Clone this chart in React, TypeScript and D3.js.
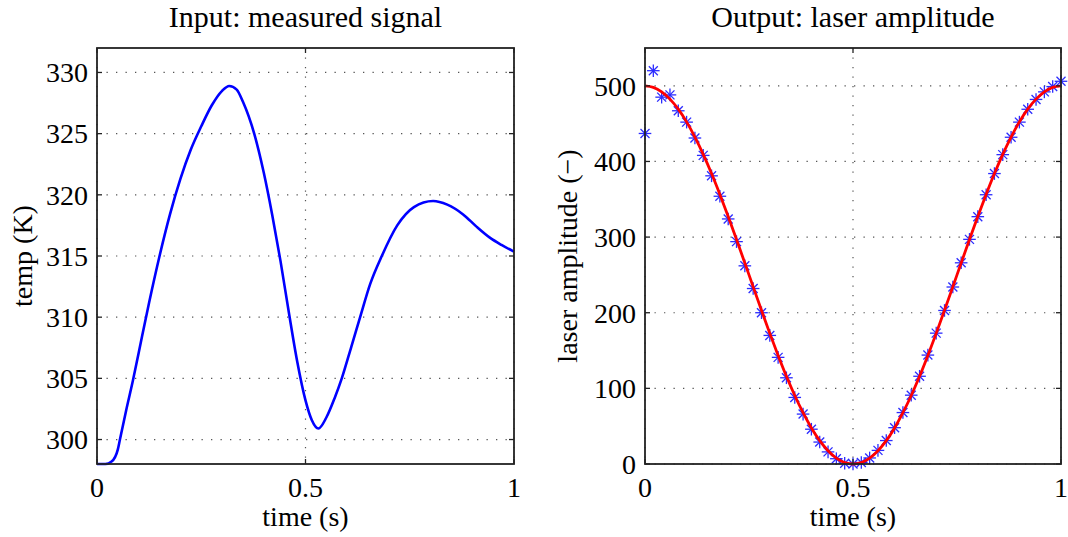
import React from 'react';
import * as d3 from 'd3';

const W = 1068;
const H = 537;
const FONT = '"Liberation Serif", "Times New Roman", serif';

// left panel: measured temperature (K) vs time (s)
const inputTime = [
  0, 0.02, 0.035, 0.05, 0.055, 0.07, 0.086, 0.1, 0.125, 0.15, 0.175, 0.2, 0.225, 0.25,
  0.275, 0.3, 0.317, 0.335, 0.35, 0.377, 0.4, 0.42, 0.44, 0.46, 0.48, 0.5,
  0.515, 0.531, 0.55, 0.57, 0.587, 0.61, 0.631, 0.655, 0.683, 0.72, 0.76, 0.806, 0.84,
  0.878, 0.91, 0.942, 0.97, 1.0,
];
const inputTemp = [
  298, 298, 298.2, 299.2, 300, 302.4, 304.8, 307.1, 311.2, 315, 318.4, 321.3, 323.7, 325.6,
  327.3, 328.5, 328.9, 328.6, 327.6, 325, 321.8, 318.4, 314.6, 310.4, 306.4, 303.2,
  301.6, 300.9, 301.8, 303.4, 305, 307.6, 310, 312.7, 315, 317.5, 319, 319.5, 319.2,
  318.4, 317.4, 316.5, 315.9, 315.35,
];

// right panel: laser amplitude, samples every 0.02 s
const laserRef = [
  500, 498, 492.1, 482.4, 469.1, 452.3, 432.2, 409.4, 384, 356.4, 327.3, 296.8, 265.7,
  234.3, 203.2, 172.7, 143.6, 116, 90.6, 67.8, 47.7, 30.9, 17.6, 7.9, 2, 0,
  2, 7.9, 17.6, 30.9, 47.7, 67.8, 90.6, 116, 143.6, 172.7, 203.2, 234.3, 265.7,
  296.8, 327.3, 356.4, 384, 409.4, 432.2, 452.3, 469.1, 482.4, 492.1, 498, 500,
];
const laserOut = [
  437, 520, 485, 488, 467, 452, 431, 408, 381, 354, 324, 294, 262, 232, 200, 170, 141,
  114, 88, 66, 46, 29, 16, 7, 1, 0, 2, 8, 18, 31, 48, 68, 91, 116, 144, 173, 203,
  234, 266, 297, 327, 356, 384, 409, 432, 452, 469, 482, 492, 499, 506,
];
const laserTime = laserRef.map((_, i) => i / 50);

const xTicks = [0, 0.5, 1];
const xTickLabels = ['0', '0.5', '1'];
const tempTicks = [300, 305, 310, 315, 320, 325, 330];
const ampTicks = [0, 100, 200, 300, 400, 500];

const TOP = 48;
const BOTTOM = 464;

function Frame({ x, y, xt, yt, title, yLabel, yLabelX, children }: any) {
  const [x0, x1] = x.range();
  const cx = (x0 + x1) / 2;
  const cy = (TOP + BOTTOM) / 2;
  const tl = 5;
  const axisColor = '#222';
  return (
    <g>
      {/* grid */}
      {xt.map((t: number) => (
        <line key={'gx' + t} x1={x(t)} x2={x(t)} y1={TOP} y2={BOTTOM}
          stroke="#555" strokeWidth={1.2} strokeDasharray="1.3,8.2" />
      ))}
      {yt.map((t: number) => (
        <line key={'gy' + t} x1={x0} x2={x1} y1={y(t)} y2={y(t)}
          stroke="#555" strokeWidth={1.2} strokeDasharray="1.3,8.2" />
      ))}
      {children}
      {/* box */}
      <rect x={x0} y={TOP} width={x1 - x0} height={BOTTOM - TOP} fill="none"
        stroke={axisColor} strokeWidth={1.8} />
      {/* ticks */}
      {xt.map((t: number) => (
        <g key={'tx' + t}>
          <line x1={x(t)} x2={x(t)} y1={BOTTOM} y2={BOTTOM - tl} stroke={axisColor} strokeWidth={1.3} />
          <line x1={x(t)} x2={x(t)} y1={TOP} y2={TOP + tl} stroke={axisColor} strokeWidth={1.3} />
        </g>
      ))}
      {yt.map((t: number) => (
        <g key={'ty' + t}>
          <line x1={x0} x2={x0 + tl} y1={y(t)} y2={y(t)} stroke={axisColor} strokeWidth={1.3} />
          <line x1={x1} x2={x1 - tl} y1={y(t)} y2={y(t)} stroke={axisColor} strokeWidth={1.3} />
        </g>
      ))}
      {/* tick labels */}
      {xt.map((t: number, i: number) => (
        <text key={'lx' + t} x={x(t)} y={497} textAnchor="middle" fontSize={28}>
          {xTickLabels[i]}
        </text>
      ))}
      {yt.map((t: number) => (
        <text key={'ly' + t} x={x0 - 9} y={y(t)} dy="0.35em" textAnchor="end" fontSize={28}>
          {t}
        </text>
      ))}
      <text x={cx} y={526} textAnchor="middle" fontSize={28}>time (s)</text>
      <text x={cx} y={27} textAnchor="middle" fontSize={30}>{title}</text>
      <text transform={`translate(${yLabelX},${cy}) rotate(-90)`} textAnchor="middle" fontSize={28}>
        {yLabel}
      </text>
    </g>
  );
}

function Asterisk({ cx, cy }: { cx: number; cy: number }) {
  const r = 6.3;
  const d = 4.5;
  return (
    <g stroke="#1515ff" strokeWidth={1.3} opacity={0.9}>
      <line x1={cx - r} x2={cx + r} y1={cy} y2={cy} />
      <line x1={cx} x2={cx} y1={cy - r} y2={cy + r} />
      <line x1={cx - d} x2={cx + d} y1={cy - d} y2={cy + d} />
      <line x1={cx - d} x2={cx + d} y1={cy + d} y2={cy - d} />
    </g>
  );
}

export default function App() {
  const xL = d3.scaleLinear().domain([0, 1]).range([97, 514]);
  const yL = d3.scaleLinear().domain([298, 332]).range([BOTTOM, TOP]);
  const xR = d3.scaleLinear().domain([0, 1]).range([645, 1061]);
  const yR = d3.scaleLinear().domain([0, 550]).range([BOTTOM, TOP]);

  const tempLine = d3.line<number>()
    .x((_, i) => xL(inputTime[i]))
    .y(d => yL(d))
    .curve(d3.curveMonotoneX);
  const refLine = d3.line<number>()
    .x((_, i) => xR(laserTime[i]))
    .y(d => yR(d))
    .curve(d3.curveMonotoneX);

  return (
    <svg width={W} height={H} style={{ position: 'absolute', left: 0, top: 0, background: '#fff' }}
      fontFamily={FONT} fill="#000">
      <Frame x={xL} y={yL} xt={xTicks} yt={tempTicks} title="Input: measured signal"
        yLabel="temp (K)" yLabelX={32}>
        <path d={tempLine(inputTemp) || ''} fill="none" stroke="#0000ff" strokeWidth={2.6} />
      </Frame>
      <Frame x={xR} y={yR} xt={xTicks} yt={ampTicks} title="Output: laser amplitude"
        yLabel="laser amplitude (−)" yLabelX={577}>
        {laserOut.map((v, i) => (
          <Asterisk key={i} cx={xR(laserTime[i])} cy={yR(v)} />
        ))}
        <path d={refLine(laserRef) || ''} fill="none" stroke="#ff0000" strokeWidth={2.8} />
      </Frame>
    </svg>
  );
}
